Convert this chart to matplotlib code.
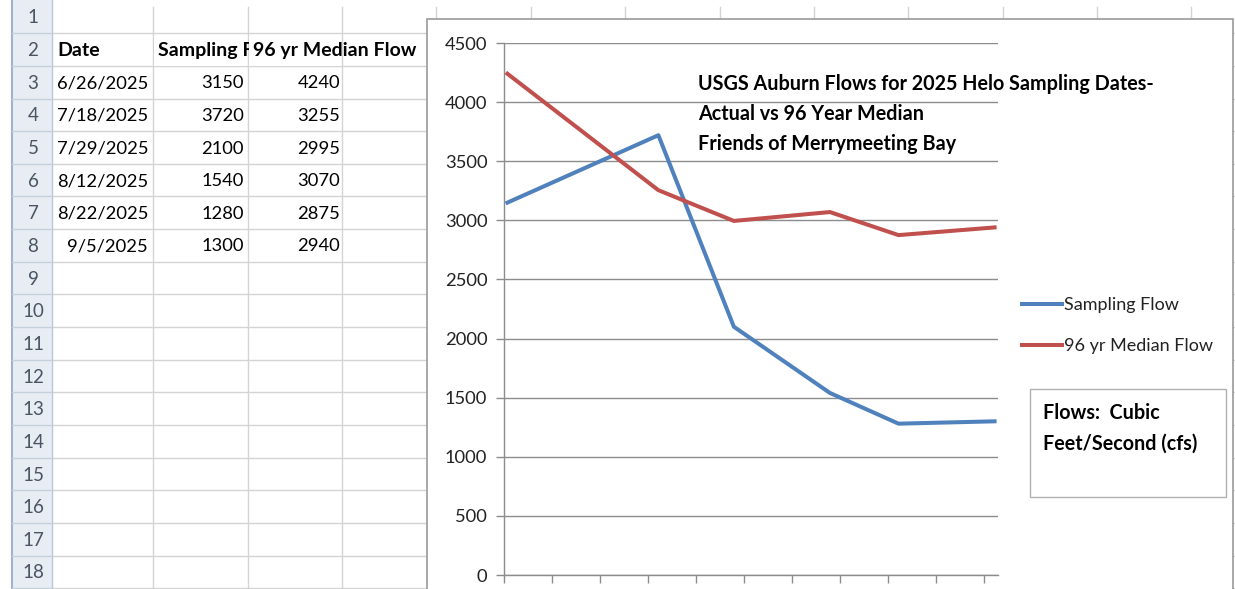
import datetime as dt

import matplotlib
matplotlib.use("Agg")
import matplotlib.pyplot as plt
from matplotlib.patches import Rectangle

# ---------------------------------------------------------------------------
# data
# ---------------------------------------------------------------------------
dates = ["6/26/2025", "7/18/2025", "7/29/2025", "8/12/2025", "8/22/2025", "9/5/2025"]
sampling = [3150, 3720, 2100, 1540, 1280, 1300]
median = [4240, 3255, 2995, 3070, 2875, 2940]
headers = ["Date", "Sampling Flow", "96 yr Median Flow"]
series_names = ["Sampling Flow", "96 yr Median Flow"]
title_lines = ["USGS Auburn Flows for 2025 Helo Sampling Dates-",
               "Actual vs 96 Year Median",
               "Friends of Merrymeeting Bay"]
note_lines = ["Flows:  Cubic", "Feet/Second (cfs)"]
yticks = list(range(0, 4501, 500))

W, H = 1235, 589
FONT = "Lato"
BLUE, RED = "#4F81BD", "#C0504D"
GRID = "#d4d4d4"
AXGRAY = "#8c8c8c"

plt.rcParams["font.family"] = [FONT, "DejaVu Sans"]

fig = plt.figure(figsize=(W / 100, H / 100), dpi=100)

# background axes in pixel coordinates (y grows downward)
bg = fig.add_axes([0, 0, 1, 1], zorder=0)
bg.set_xlim(0, W)
bg.set_ylim(H, 0)
bg.axis("off")

# ---------------------------------------------------------------------------
# spreadsheet
# ---------------------------------------------------------------------------
row_h = 32.65
row_top = 0.6          # top of row 1
hdr_l, hdr_r = 12, 52
col_edges = [52, 153, 248, 342, 436, 531, 625, 720, 814, 908, 1003, 1097, 1191, 1285]
n_rows = 18

bg.add_patch(Rectangle((hdr_l, 0), hdr_r - hdr_l, H, facecolor="#e8edf4",
                       edgecolor="none", zorder=1))
bg.plot([hdr_l, hdr_l], [0, H], color="#9fb3cc", lw=1.5, zorder=2)
bg.plot([hdr_r, hdr_r], [0, H], color="#b9c6d6", lw=1, zorder=2)

for i in range(n_rows + 1):
    y = row_top + (i + 1) * row_h
    bg.plot([hdr_l, hdr_r], [y, y], color="#c5d0dd", lw=1, zorder=2)
    bg.plot([hdr_r, W], [y, y], color=GRID, lw=1, zorder=1)
for x in col_edges[1:]:
    bg.plot([x, x], [7, H], color=GRID, lw=1, zorder=1)

for i in range(n_rows):
    yc = row_top + (i + 0.5) * row_h + 1
    bg.text((hdr_l + hdr_r) / 2 + 1, yc, str(i + 1), ha="center", va="center",
            fontsize=13.5, color="#4a5462", zorder=3)

# header row (row 2); later cells paint over the overflow of earlier ones
cell_font = 13.2
bold_font = 14
y2 = row_top + 1.5 * row_h + 1
for j, h in enumerate(headers):
    z = 3 + j * 0.2
    if j > 0:
        bg.add_patch(Rectangle((col_edges[j] + 0.8, y2 - 15), col_edges[j + 1] - col_edges[j] - 1.6,
                               30, facecolor="white", edgecolor="none", zorder=z - 0.1))
    bg.text(col_edges[j] + 5, y2, h, ha="left", va="center",
            fontsize=bold_font, fontweight="bold", color="black", zorder=z)

for i, (d, s, m) in enumerate(zip(dates, sampling, median)):
    yc = row_top + (i + 2.5) * row_h + 1
    bg.text(col_edges[1] - 5, yc, d, ha="right", va="center", fontsize=cell_font, zorder=3)
    bg.text(col_edges[2] - 4, yc, str(s), ha="right", va="center", fontsize=cell_font, zorder=3)
    bg.text(col_edges[3] - 2, yc, str(m), ha="right", va="center", fontsize=cell_font, zorder=3)

# ---------------------------------------------------------------------------
# chart object
# ---------------------------------------------------------------------------
cx0, cy0, cx1 = 427, 18.5, 1233
bg.add_patch(Rectangle((cx0, cy0), cx1 - cx0, H + 20 - cy0, facecolor="white",
                       edgecolor="#9a9a9a", lw=1.2, zorder=5))

px_l, px_r, px_t, px_b = 504, 998, 43, 575
ax = fig.add_axes([px_l / W, 1 - px_b / H, (px_r - px_l) / W, (px_b - px_t) / H], zorder=2)
ax.patch.set_alpha(0)

d0 = dt.datetime.strptime(dates[0], "%m/%d/%Y")
xs = [(dt.datetime.strptime(d, "%m/%d/%Y") - d0).days + 0.5 for d in dates]

ax.plot(xs, sampling, color=BLUE, lw=2.9, solid_joinstyle="round", zorder=3,
        label=series_names[0])
ax.plot(xs, median, color=RED, lw=2.9, solid_joinstyle="round", zorder=3,
        label=series_names[1])

ax.set_xlim(0, 72)
ax.set_ylim(0, 4500)
ax.set_yticks(yticks)
ax.set_xticks(range(0, 71, 7))
ax.set_xticklabels([])
ax.grid(axis="y", color=AXGRAY, lw=1)
ax.set_axisbelow(True)
for side in ["top", "right"]:
    ax.spines[side].set_visible(False)
for side in ["left", "bottom"]:
    ax.spines[side].set_color(AXGRAY)
    ax.spines[side].set_linewidth(1)
ax.tick_params(axis="both", direction="out", color=AXGRAY, length=6, width=1,
               labelsize=13.2, labelcolor="#222222", pad=6)

# title block
for k, line in enumerate(title_lines):
    fig.text(698 / W, 1 - (84 + k * 30) / H, line, ha="left", va="center",
             fontsize=14.2, fontweight="bold", color="black", zorder=10)

# legend drawn by hand to match Excel placement
for k, (name, col) in enumerate(zip(series_names, [BLUE, RED])):
    ly = 304 + k * 41
    bg.plot([1022, 1062], [ly, ly], color=col, lw=2.9, zorder=6)
    bg.text(1064, ly + 1, name, ha="left", va="center", fontsize=13,
            color="#222222", zorder=6)

# units note box
bg.add_patch(Rectangle((1030, 389), 196, 108, facecolor="white", edgecolor="#b0b0b0",
                       lw=1, zorder=6))
for k, line in enumerate(note_lines):
    bg.text(1043, 413 + k * 31, line, ha="left", va="center", fontsize=14.2,
            fontweight="bold", color="black", zorder=7)

fig.savefig("out.png", dpi=100)
